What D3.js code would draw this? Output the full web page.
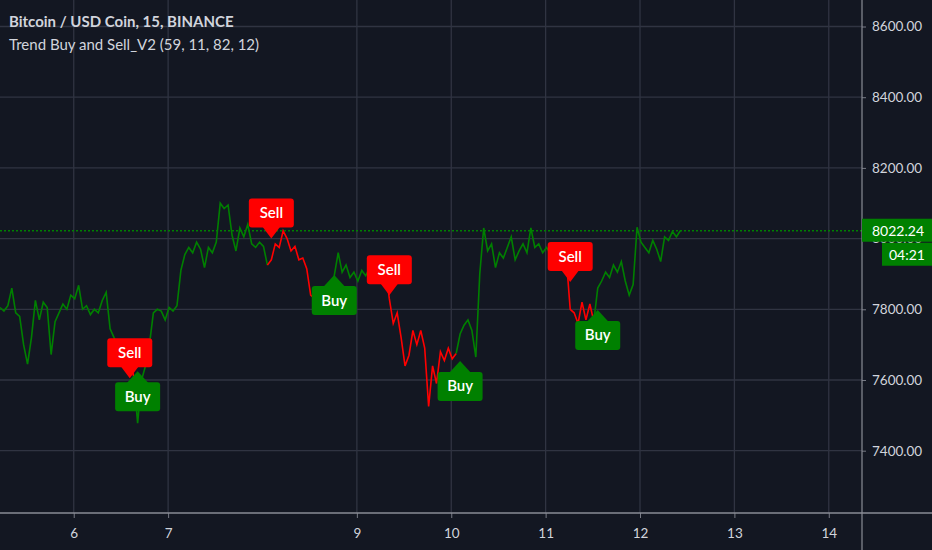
<!DOCTYPE html>
<html>
<head>
<meta charset="utf-8">
<script src="https://cdn.jsdelivr.net/npm/d3@7"></script>
<style>
  body { margin: 0; background: #131722; }
  svg { display: block; }
</style>
</head>
<body>
<div id="chart"></div>
<script>
// ---- chart values ----
const startTime = Date.UTC(2019, 5, 5, 5, 15);   // first bar of the series (hourly steps)
const prices = [
  7805, 7795, 7810, 7860, 7790, 7780, 7700, 7645, 7720, 7825,
  7770, 7820, 7805, 7672, 7765, 7790, 7815, 7800, 7840, 7830,
  7868, 7800, 7810, 7785, 7800, 7790, 7825, 7848, 7745, 7720,
  7690, 7705, 7670, 7660, 7610, 7478, 7600, 7640, 7700, 7790,
  7800, 7795, 7770, 7805, 7795, 7810, 7910, 7955, 7975, 7960,
  7990, 7970, 7918, 7975, 7960, 7990, 8100, 8085, 8095, 8010,
  7965, 8030, 8005, 8040, 7985, 7975, 7990, 7978, 7925, 7940,
  7985, 7975, 8022, 8000, 7965, 7978, 7940, 7945, 7915, 7840,
  7830, 7845, 7830, 7860, 7870, 7895, 7960, 7905, 7925, 7890,
  7905, 7880, 7910, 7895, 7918, 7905, 7925, 7910, 7920, 7830,
  7760, 7790, 7720, 7640, 7670, 7740, 7700, 7740, 7690, 7525,
  7640, 7590, 7680, 7655, 7690, 7660, 7675, 7730, 7755, 7770,
  7740, 7665, 7900, 8030, 7965, 7985, 7918, 7960, 7945, 7975,
  8005, 7940, 7965, 7985, 7960, 8030, 7975, 7985, 7960, 7975,
  7955, 7940, 7960, 7915, 7945, 7800, 7790, 7760, 7820, 7770,
  7815, 7765, 7860, 7880, 7905, 7890, 7925, 7905, 7935, 7880,
  7840, 7870, 8032, 7990, 7975, 7960, 7995, 7970, 7935, 8005,
  7995, 8020, 8005, 8022.24
];
const sellBars = [33, 69, 99, 145];            // bar index of each Sell signal
const buyBars = [35, 85, 117, 152];            // bar index of each Buy signal
const sellTips = [7605, 8000, 7840, 7877];     // price where the Sell pointer ends
const buyTips = [7625, 7897, 7654, 7798];      // price where the Buy pointer ends
const priceTicks = [7400, 7600, 7800, 8000, 8200, 8400, 8600];
const dayTicks = [6, 7, 9, 10, 11, 12, 13, 14];
const lastPrice = 8022.24;
const countdown = "04:21";
const titleLines = ["Bitcoin / USD Coin, 15, BINANCE", "Trend Buy and Sell_V2 (59, 11, 82, 12)"];

// ---- layout ----
const W = 932, H = 550;
const plotW = 862, plotH = 513;
const bg = "#131722", grid = "#303442", txt = "#d1d4dc";
const up = "#008000", down = "#ff0000";
const hour = 3600e3;

const svg = d3.select("#chart").append("svg")
  .attr("width", W).attr("height", H)
  .style("font-family", "Lato, 'Open Sans', sans-serif");

svg.append("rect").attr("width", W).attr("height", H).attr("fill", bg);

// scales
const x = d3.scaleUtc()
  .domain([new Date(startTime), new Date(startTime + 219.2 * hour)])
  .range([0, plotW]);
const y = d3.scaleLinear()
  .domain([7223.7, 8675])
  .range([plotH, 0]);

const data = prices.map((p, i) => ({ t: new Date(startTime + i * hour), p }));
const dayDates = dayTicks.map(d => new Date(Date.UTC(2019, 5, d)));

// grid
const g = svg.append("g");
g.selectAll(".hg").data(priceTicks).enter().append("line")
  .attr("x1", 0).attr("x2", plotW)
  .attr("y1", d => y(d)).attr("y2", d => y(d))
  .attr("stroke", grid).attr("stroke-width", 1.3);
g.selectAll(".vg").data(dayDates).enter().append("line")
  .attr("x1", d => x(d)).attr("x2", d => x(d))
  .attr("y1", 0).attr("y2", plotH)
  .attr("stroke", grid).attr("stroke-width", 1.3);

// last price dotted line
svg.append("line")
  .attr("x1", 0).attr("x2", plotW)
  .attr("y1", y(lastPrice)).attr("y2", y(lastPrice))
  .attr("stroke", up).attr("stroke-width", 1.3)
  .attr("stroke-dasharray", "2,2");

// colour state per bar: red after a Sell, green after a Buy
const state = [];
let s = "buy";
data.forEach((d, i) => {
  if (sellBars.includes(i)) s = "sell";
  if (buyBars.includes(i)) s = "buy";
  state[i] = s;
});
const runs = [];
for (let i = 1; i < data.length; i++) {
  const last = runs[runs.length - 1];
  if (last && last.state === state[i]) last.pts.push(data[i]);
  else runs.push({ state: state[i], pts: [data[i - 1], data[i]] });
}

const line = d3.line().x(d => x(d.t)).y(d => y(d.p));
svg.append("g").selectAll("path").data(runs).enter().append("path")
  .attr("d", d => line(d.pts))
  .attr("fill", "none")
  .attr("stroke", d => d.state === "sell" ? down : up)
  .attr("stroke-width", 1.6)
  .attr("stroke-linejoin", "miter");

// signal labels
const bw = 45, bh = 29, gap = 11;
function drawLabel(bar, tip, kind) {
  const cx = x(data[bar].t), ty = y(tip);
  const lg = svg.append("g");
  const col = kind === "Sell" ? down : up;
  const half = kind === "Sell" ? 9 : 11;
  let top, tri;
  if (kind === "Sell") {
    top = ty - gap - bh;
    tri = [[cx - half, top + bh - 1], [cx + half, top + bh - 1], [cx, ty]];
  } else {
    top = ty + gap;
    tri = [[cx - half, top + 1], [cx + half, top + 1], [cx, ty]];
  }
  lg.append("rect")
    .attr("x", cx - bw / 2).attr("y", top)
    .attr("width", bw).attr("height", bh)
    .attr("rx", 3).attr("fill", col);
  lg.append("path").attr("d", d3.line()(tri) + "Z").attr("fill", col);
  lg.append("text")
    .attr("x", cx).attr("y", top + bh / 2 + 5)
    .attr("text-anchor", "middle")
    .attr("fill", "#ffffff")
    .style("font-size", "15px")
    .style("font-weight", "600")
    .text(kind);
}
sellBars.forEach((b, i) => drawLabel(b, sellTips[i], "Sell"));
buyBars.forEach((b, i) => drawLabel(b, buyTips[i], "Buy"));

// right price axis
const yAxis = svg.append("g")
  .attr("transform", `translate(${plotW},0)`)
  .call(d3.axisRight(y).tickValues(priceTicks).tickFormat(d3.format(".2f")).tickSize(4).tickPadding(6));
yAxis.select(".domain").remove();
yAxis.selectAll("line").attr("stroke", "#787b86");
yAxis.selectAll("text").attr("fill", txt).style("font-size", "13.5px").style("font-family", "Lato, sans-serif");

// bottom time axis
const xAxis = svg.append("g")
  .attr("transform", `translate(0,${plotH})`)
  .call(d3.axisBottom(x).tickValues(dayDates).tickFormat(d3.utcFormat("%-d")).tickSize(5).tickPadding(10));
xAxis.select(".domain").remove();
xAxis.selectAll("line").attr("stroke", "#787b86");
xAxis.selectAll("text").attr("fill", txt).style("font-size", "13.5px").style("font-family", "Lato, sans-serif");

// axis border lines
svg.append("line").attr("x1", 0).attr("x2", W).attr("y1", plotH).attr("y2", plotH)
  .attr("stroke", "#8a8d96").attr("stroke-width", 1.5);
svg.append("line").attr("x1", plotW).attr("x2", plotW).attr("y1", 0).attr("y2", H)
  .attr("stroke", "#8a8d96").attr("stroke-width", 1.2);

// last price tag and bar countdown
const ly = y(lastPrice);
svg.append("rect").attr("x", plotW).attr("y", ly - 12).attr("width", W - plotW).attr("height", 23).attr("fill", up);
svg.append("text").attr("x", plotW + 10).attr("y", ly + 5)
  .attr("fill", "#ffffff").style("font-size", "14px").text(d3.format(".2f")(lastPrice));
svg.append("rect").attr("x", 882).attr("y", ly + 12).attr("width", W - 882).attr("height", 23).attr("fill", up);
svg.append("text").attr("x", 907).attr("y", ly + 29).attr("text-anchor", "middle")
  .attr("fill", "#ffffff").style("font-size", "14px").text(countdown);

// title lines
svg.append("text").attr("x", 9).attr("y", 27)
  .attr("fill", txt).style("font-size", "15px").style("font-weight", "bold").text(titleLines[0]);
svg.append("text").attr("x", 9).attr("y", 50)
  .attr("fill", txt).style("font-size", "15px").text(titleLines[1]);
</script>
</body>
</html>
